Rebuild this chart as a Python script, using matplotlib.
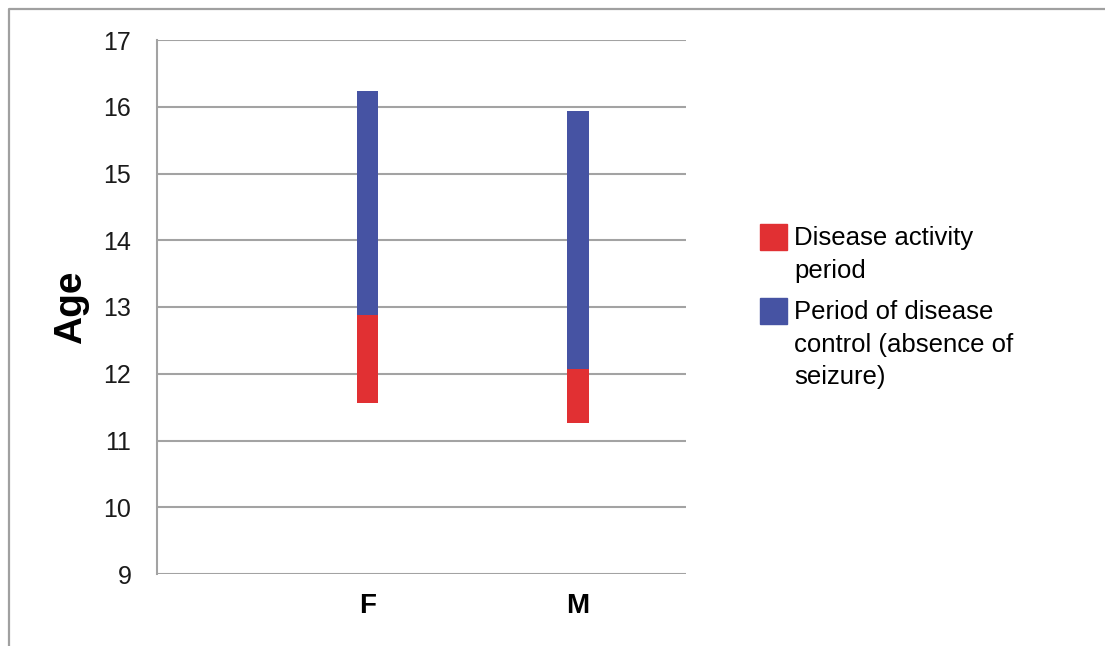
import matplotlib.pyplot as plt
from matplotlib.lines import Line2D
from matplotlib.patches import Rectangle
import numpy as np

plt.rcParams['font.family'] = ['Liberation Sans', 'DejaVu Sans']

# ages
sex = ["F", "M"]
activity_start = np.array([11.56, 11.26])
activity_end = np.array([12.88, 12.07])
control_end = np.array([16.24, 15.94])
y_ticks = [9, 10, 11, 12, 13, 14, 15, 16, 17]
legend_labels = ["Disease activity\nperiod", "Period of disease\ncontrol (absence of\nseizure)"]

red = "#E13033"
blue = "#4653A3"
grid_grey = "#a3a3a3"

fig = plt.figure(figsize=(11.05, 6.46), dpi=100)
ax = fig.add_axes([157 / 1105, 1 - 574 / 646, 529 / 1105, 534 / 646])

x = np.arange(1, len(sex) + 1)
ax.bar(x, activity_end - activity_start, bottom=activity_start, width=0.102, color=red)
ax.bar(x, control_end - activity_end, bottom=activity_end, width=0.102, color=blue)

ax.set_ylim(9, 17)
ax.set_xlim(0, 2.513)
ax.set_yticks(y_ticks)
ax.set_xticks(x)
ax.set_xticklabels(sex, fontsize=20, fontweight="bold")
ax.tick_params(axis="y", length=0, pad=18.5, labelsize=18, labelcolor="#1a1a1a")
ax.tick_params(axis="x", length=0, pad=13.5)
ax.grid(axis="y", color=grid_grey, linewidth=1.5)
ax.set_axisbelow(True)
for s in ["top", "right", "bottom"]:
    ax.spines[s].set_visible(False)
ax.spines["left"].set_color(grid_grey)
ax.spines["left"].set_linewidth(1.5)

ax.set_ylabel("Age", fontsize=28, fontweight="bold")
ax.yaxis.set_label_coords(-0.128, 0.5)

# legend drawn by hand so the square sits on the first line
W, H = 1105, 646
for (top, lab, col) in [(224, legend_labels[0], red), (298, legend_labels[1], blue)]:
    fig.patches.append(Rectangle((760 / W, 1 - (top + 26) / H), 27 / W, 26 / H,
                                 transform=fig.transFigure, color=col))
    fig.text(794 / W, 1 - (top + 2) / H, lab, fontsize=18.5, va="top", ha="left",
             linespacing=1.46)

# outer frame (top and left edges)
fig.lines.append(Line2D([9 / W, 9 / W, 1], [0, 1 - 9 / H, 1 - 9 / H],
                        transform=fig.transFigure, color="#a0a0a0", linewidth=1.6))

fig.savefig("out.png", dpi=100)
